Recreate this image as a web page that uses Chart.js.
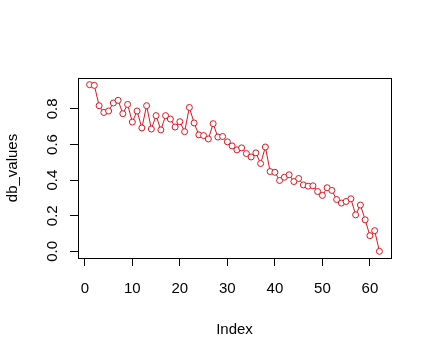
<!DOCTYPE html>
<html>
<head>
<meta charset="utf-8">
<script src="https://cdn.jsdelivr.net/npm/chart.js@4/dist/chart.umd.min.js"></script>
<style>
  html, body { margin: 0; padding: 0; background: #ffffff; }
  #wrap { width: 431px; height: 357px; position: relative; }
</style>
</head>
<body>
<div id="wrap"><canvas id="c" width="431" height="357"></canvas></div>
<script>
// ---- data ----
const indexValues = [1,2,3,4,5,6,7,8,9,10,11,12,13,14,15,16,17,18,19,20,21,22,23,24,25,26,27,28,29,30,31,32,33,34,35,36,37,38,39,40,41,42,43,44,45,46,47,48,49,50,51,52,53,54,55,56,57,58,59,60,61,62];
const dbValues = [0.936,0.932,0.818,0.780,0.788,0.833,0.848,0.773,0.825,0.726,
                  0.788,0.693,0.818,0.687,0.762,0.682,0.762,0.743,0.698,0.728,
                  0.672,0.808,0.721,0.654,0.650,0.631,0.717,0.642,0.645,0.615,
                  0.592,0.570,0.581,0.549,0.530,0.553,0.493,0.586,0.448,0.444,
                  0.398,0.416,0.430,0.392,0.409,0.373,0.366,0.368,0.336,0.314,
                  0.357,0.342,0.291,0.271,0.280,0.295,0.205,0.260,0.177,0.088,
                  0.116,0.000];
const xTickValues = [0,10,20,30,40,50,60];
const yTickValues = [0.0,0.2,0.4,0.6,0.8];
const xTitle = "Index";
const yTitle = "db_values";

// R-style axis limits (4% extension)
const xMinD = Math.min(...indexValues), xMaxD = Math.max(...indexValues);
const yMinD = Math.min(...dbValues), yMaxD = Math.max(...dbValues);
const xPad = 0.04 * (xMaxD - xMinD), yPad = 0.04 * (yMaxD - yMinD);

const RED = '#e0141e';
const FONT = '"Liberation Sans", Arial, sans-serif';

const boxPlugin = {
  id: 'box',
  afterDraw(chart) {
    const a = chart.chartArea, ctx = chart.ctx;
    ctx.save();
    ctx.strokeStyle = '#000';
    ctx.lineWidth = 1;
    ctx.strokeRect(Math.round(a.left) + 0.5, Math.round(a.top) + 0.5,
                   Math.round(a.right - a.left), Math.round(a.bottom - a.top));
    ctx.restore();
  }
};
const bgPlugin = {
  id: 'bg',
  beforeDraw(chart) {
    const ctx = chart.ctx;
    ctx.save(); ctx.fillStyle = '#fff'; ctx.fillRect(0, 0, chart.width, chart.height); ctx.restore();
  }
};

new Chart(document.getElementById('c'), {
  type: 'line',
  data: {
    datasets: [{
      data: indexValues.map((x, i) => ({ x: x, y: dbValues[i] })),
      borderColor: RED,
      borderWidth: 1,
      pointRadius: 3,
      pointBorderWidth: 1,
      pointBorderColor: RED,
      pointBackgroundColor: '#ffffff',
      pointHoverRadius: 3,
      tension: 0,
      fill: false
    }]
  },
  options: {
    responsive: false,
    animation: false,
    devicePixelRatio: 1,
    layout: { padding: { left: 0, top: 78, right: 40, bottom: 6 } },
    plugins: { legend: { display: false }, tooltip: { enabled: false } },
    scales: {
      x: {
        type: 'linear',
        min: xMinD - xPad,
        max: xMaxD + xPad,
        afterBuildTicks: s => { s.ticks = xTickValues.map(v => ({ value: v })); },
        afterFit: s => { s.height = 93; },
        grid: { drawOnChartArea: false, drawTicks: true, tickLength: 8, color: '#000', lineWidth: 1 },
        border: { display: true, color: '#000', width: 1 },
        ticks: { color: '#000', font: { family: FONT, size: 15 }, padding: 14, maxRotation: 0, minRotation: 0,
                 callback: v => String(v) },
        title: { display: true, text: xTitle, color: '#000', font: { family: FONT, size: 15 }, padding: { top: 0, bottom: 12 } }
      },
      y: {
        type: 'linear',
        min: yMinD - yPad,
        max: yMaxD + yPad,
        afterBuildTicks: s => { s.ticks = yTickValues.map(v => ({ value: v })); },
        afterFit: s => { s.width = 78; },
        grid: { drawOnChartArea: false, drawTicks: true, tickLength: 8, color: '#000', lineWidth: 1 },
        border: { display: true, color: '#000', width: 1 },
        ticks: { color: '#000', font: { family: FONT, size: 15 }, padding: 7, minRotation: 90, maxRotation: 90,
                 crossAlign: 'center', callback: v => v.toFixed(1) },
        title: { display: true, text: yTitle, color: '#000', font: { family: FONT, size: 15 }, padding: { top: 4, bottom: 0 } }
      }
    }
  },
  plugins: [bgPlugin, boxPlugin]
});
</script>
</body>
</html>
